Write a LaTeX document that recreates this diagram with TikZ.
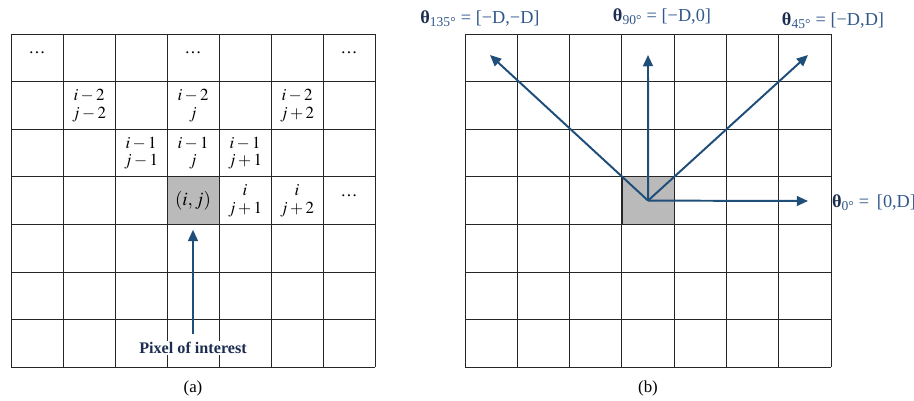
\documentclass[tikz,border=0pt]{standalone}
\usepackage{mathptmx}
\usepackage{fontspec}
\setmainfont{Liberation Serif}
\usepackage{tikz}
\usetikzlibrary{arrows.meta, positioning, calc}

\definecolor{arrowblue}{RGB}{31,78,121}
\definecolor{labelblue}{RGB}{50,88,140}
\definecolor{thetanavy}{RGB}{28,46,80}
\definecolor{cellgray}{RGB}{186,186,186}

\begin{document}
\begin{tikzpicture}[x=0.025cm, y=-0.025cm,
    gridline/.style={draw=black!85, line width=0.7pt},
    pixcell/.style={rectangle, draw=black!85, line width=0.7pt, fill=cellgray, minimum width=1.3cm, minimum height=1.19cm, inner sep=0pt},
    lbl/.style={align=center, font=\fontsize{12}{12.5}\selectfont, inner sep=0pt},
    arrow/.style={-{Triangle[length=8pt, width=7pt]}, draw=arrowblue, line width=1.4pt},
    theta/.style={text=labelblue, font=\fontsize{13}{15}\selectfont, inner sep=0pt}
]
    \useasboundingbox (0,0) rectangle (914,401);

    % (a) neighbourhood of the pixel
    \node[pixcell, font=\fontsize{13.5}{14}\selectfont] (pix) at (193,200.6) {$(i,j)$};
    \foreach \k in {0,...,7} {
        \draw[gridline] (11+52*\k,34) -- (11+52*\k,367.2);
        \draw[gridline] (11,34+47.6*\k) -- (375,34+47.6*\k);
    }
    \foreach \c/\r/\txt in {2/2/{$i-2$\\$j-2$}, 4/2/{$i-2$\\$j$}, 6/2/{$i-2$\\$j+2$},
                            3/3/{$i-1$\\$j-1$}, 4/3/{$i-1$\\$j$}, 5/3/{$i-1$\\$j+1$},
                            5/4/{$i$\\$j+1$}, 6/4/{$i$\\$j+2$}} {
        \node[lbl] (a-\r-\c) at (11+52*\c-26,34+47.6*\r-23.8) {\txt};
    }
    \foreach \c/\r in {1/1, 4/1, 7/1, 7/4} {
        \node[lbl, yshift=3.5pt] (dots-\r-\c) at (11+52*\c-26,34+47.6*\r-23.8) {\dots};
    }
    \node[fill=white, inner sep=1pt, text=thetanavy, font=\fontsize{11.5}{13}\selectfont\bfseries] (poi) at (193,348) {Pixel of interest};
    \draw[arrow, shorten <=5pt, shorten >=3.5pt] (poi.north) -- (pix.south);
    \node[lbl] (capa) at (193,388) {(a)};

    % (b) the four offsets
    \node[pixcell] (ctr) at (648.05,200.6) {};
    \foreach \k in {0,...,7} {
        \draw[gridline] (465+52.3*\k,34) -- (465+52.3*\k,367.2);
        \draw[gridline] (465,34+47.6*\k) -- (831,34+47.6*\k);
    }
    \coordinate (t0) at (808,201);
    \coordinate (t45) at (808,55);
    \coordinate (t90) at (648,55);
    \coordinate (t135) at (490,55);
    \draw[arrow] (ctr.center) -- (t0);
    \draw[arrow] (ctr.center) -- (t45);
    \draw[arrow] (ctr.center) -- (t90);
    \draw[arrow] (ctr.center) -- (t135);

    \node[theta] (th135) at (480,19) {\textcolor{thetanavy}{\textbf{θ}}\textsubscript{135°} = [−D,−D]};
    \node[theta] (th90) at (662,17) {\textcolor{thetanavy}{\textbf{θ}}\textsubscript{90°} = [−D,0]};
    \node[theta] (th45) at (833,21) {\textcolor{thetanavy}{\textbf{θ}}\textsubscript{45°} = [−D,D]};
    \node[theta] (th0) at (874,203) {\textcolor{thetanavy}{\textbf{θ}}\textsubscript{0°} =\, [0,D]};
    \node[lbl] (capb) at (648,388) {(b)};
\end{tikzpicture}
\end{document}
